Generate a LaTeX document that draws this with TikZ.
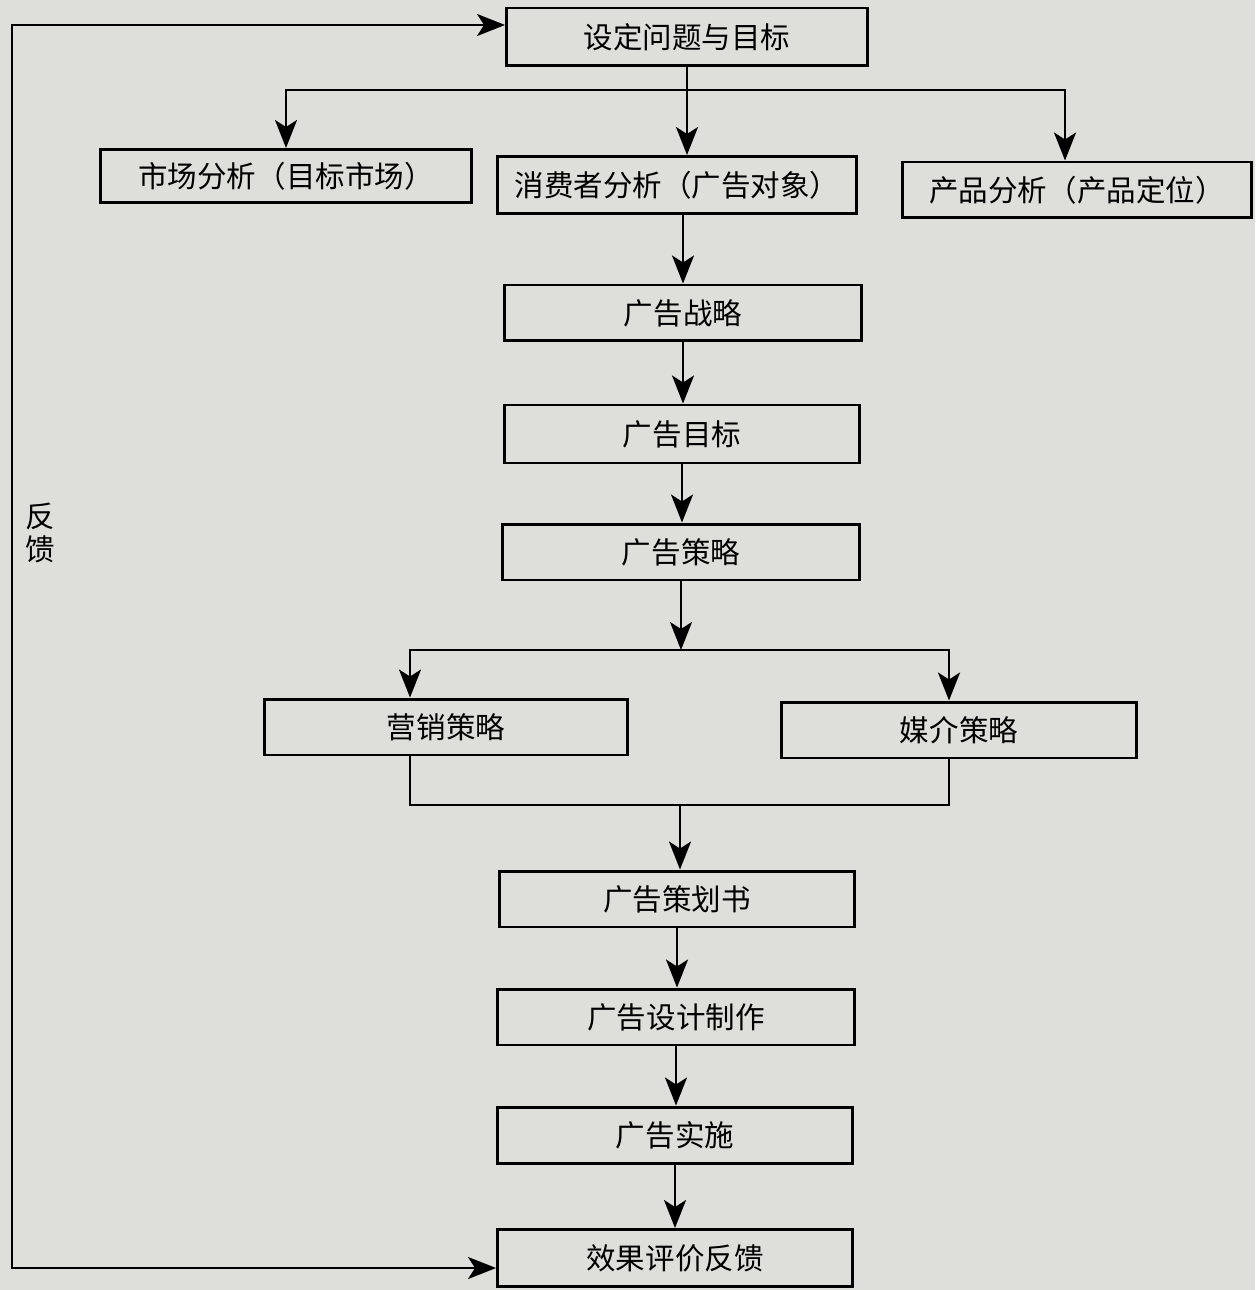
\documentclass[tikz,border=0pt]{standalone}
\usepackage{fontspec}
\setmainfont{Noto Sans CJK SC}
\usetikzlibrary{arrows.meta}
\definecolor{paper}{RGB}{222,222,218}
\tikzset{
    stepbox/.style={draw, line width=1.7pt, minimum height=1.12cm, inner sep=0pt, font=\fontsize{16.8}{19}\selectfont},
    flowline/.style={line width=1.4pt},
    flowarrow/.style={flowline, -{Stealth[length=0.56cm,width=0.44cm,inset=0.14cm]}}
}

\begin{document}
\begin{tikzpicture}[x=0.02cm,y=-0.02cm]
        \useasboundingbox (0,0) rectangle (1255,1290);
        \fill[paper] (0,0) rectangle (1255,1290); %Page
        \node [stepbox, minimum width=7.22cm, minimum height=1.16cm] (goal) at (687,37) {设定问题与目标}; %Top box
        \node [stepbox, minimum width=7.44cm, minimum height=1.06cm] (market) at (286,176) {市场分析（目标市场）};
        \node [stepbox, minimum width=7.18cm, minimum height=1.14cm] (consumer) at (677,185) {消费者分析（广告对象）};
        \node [stepbox, minimum width=7cm] (product) at (1077,190) {产品分析（产品定位）};
        \node [stepbox, minimum width=7.14cm] (strategy) at (683,313) {广告战略};
        \node [stepbox, minimum width=7.1cm, minimum height=1.16cm] (objective) at (682,434) {广告目标};
        \node [stepbox, minimum width=7.14cm] (tactics) at (681,552) {广告策略};
        \node [stepbox, minimum width=7.26cm] (marketing) at (446,727) {营销策略}; %Left branch
        \node [stepbox, minimum width=7.1cm] (media) at (959,730) {媒介策略}; %Right branch
        \node [stepbox, minimum width=7.1cm] (plan) at (677,899) {广告策划书};
        \node [stepbox, minimum width=7.14cm] (design) at (676,1017) {广告设计制作};
        \node [stepbox, minimum width=7.1cm] (execute) at (675,1135) {广告实施};
        \node [stepbox, minimum width=7.1cm, minimum height=1.14cm] (evaluate) at (675,1258) {效果评价反馈}; %Bottom box
        \node [font=\fontsize{16.8}{18.4}\selectfont, align=center] (fbtext) at (40,533) {反\\馈}; %Feedback label
        \coordinate (split) at (687,90);
        \draw [flowarrow] (goal.south -| split) -- (consumer.north -| split);
        \draw [flowarrow] (split) -| (market.north);
        \draw [flowarrow] (split) -| ([xshift=-0.24cm]product.north);
        \draw [flowarrow] (consumer.south -| strategy.north) -- (strategy.north);
        \draw [flowarrow] (strategy.south) -- (strategy.south |- objective.north);
        \draw [flowarrow] (objective.south) -- (objective.south |- tactics.north);
        \coordinate (fork) at (681,650);
        \draw [flowarrow] (tactics.south) -- (fork);
        \draw [flowarrow] (fork) -| ([xshift=-0.72cm]marketing.north);
        \draw [flowarrow] (fork) -| ([xshift=-0.2cm]media.north);
        \coordinate (join) at (680,805);
        \draw [flowline] ([xshift=-0.72cm]marketing.south) |- (join) -| ([xshift=-0.2cm]media.south); %Merge both branches
        \draw [flowarrow] (join) -- (join |- plan.north);
        \draw [flowarrow] (plan.south) -- (plan.south |- design.north);
        \draw [flowarrow] (design.south) -- (design.south |- execute.north);
        \draw [flowarrow] (execute.south) -- (execute.south |- evaluate.north);
        \coordinate (back) at (12,640);
        \draw [flowline, {Stealth[length=0.56cm,width=0.44cm,inset=0.14cm]}-{Stealth[length=0.56cm,width=0.44cm,inset=0.14cm]}]
            ([yshift=-0.2cm]evaluate.west) -| (back) |- ([yshift=0.24cm]goal.west); %Feedback loop
\end{tikzpicture}
\end{document}
